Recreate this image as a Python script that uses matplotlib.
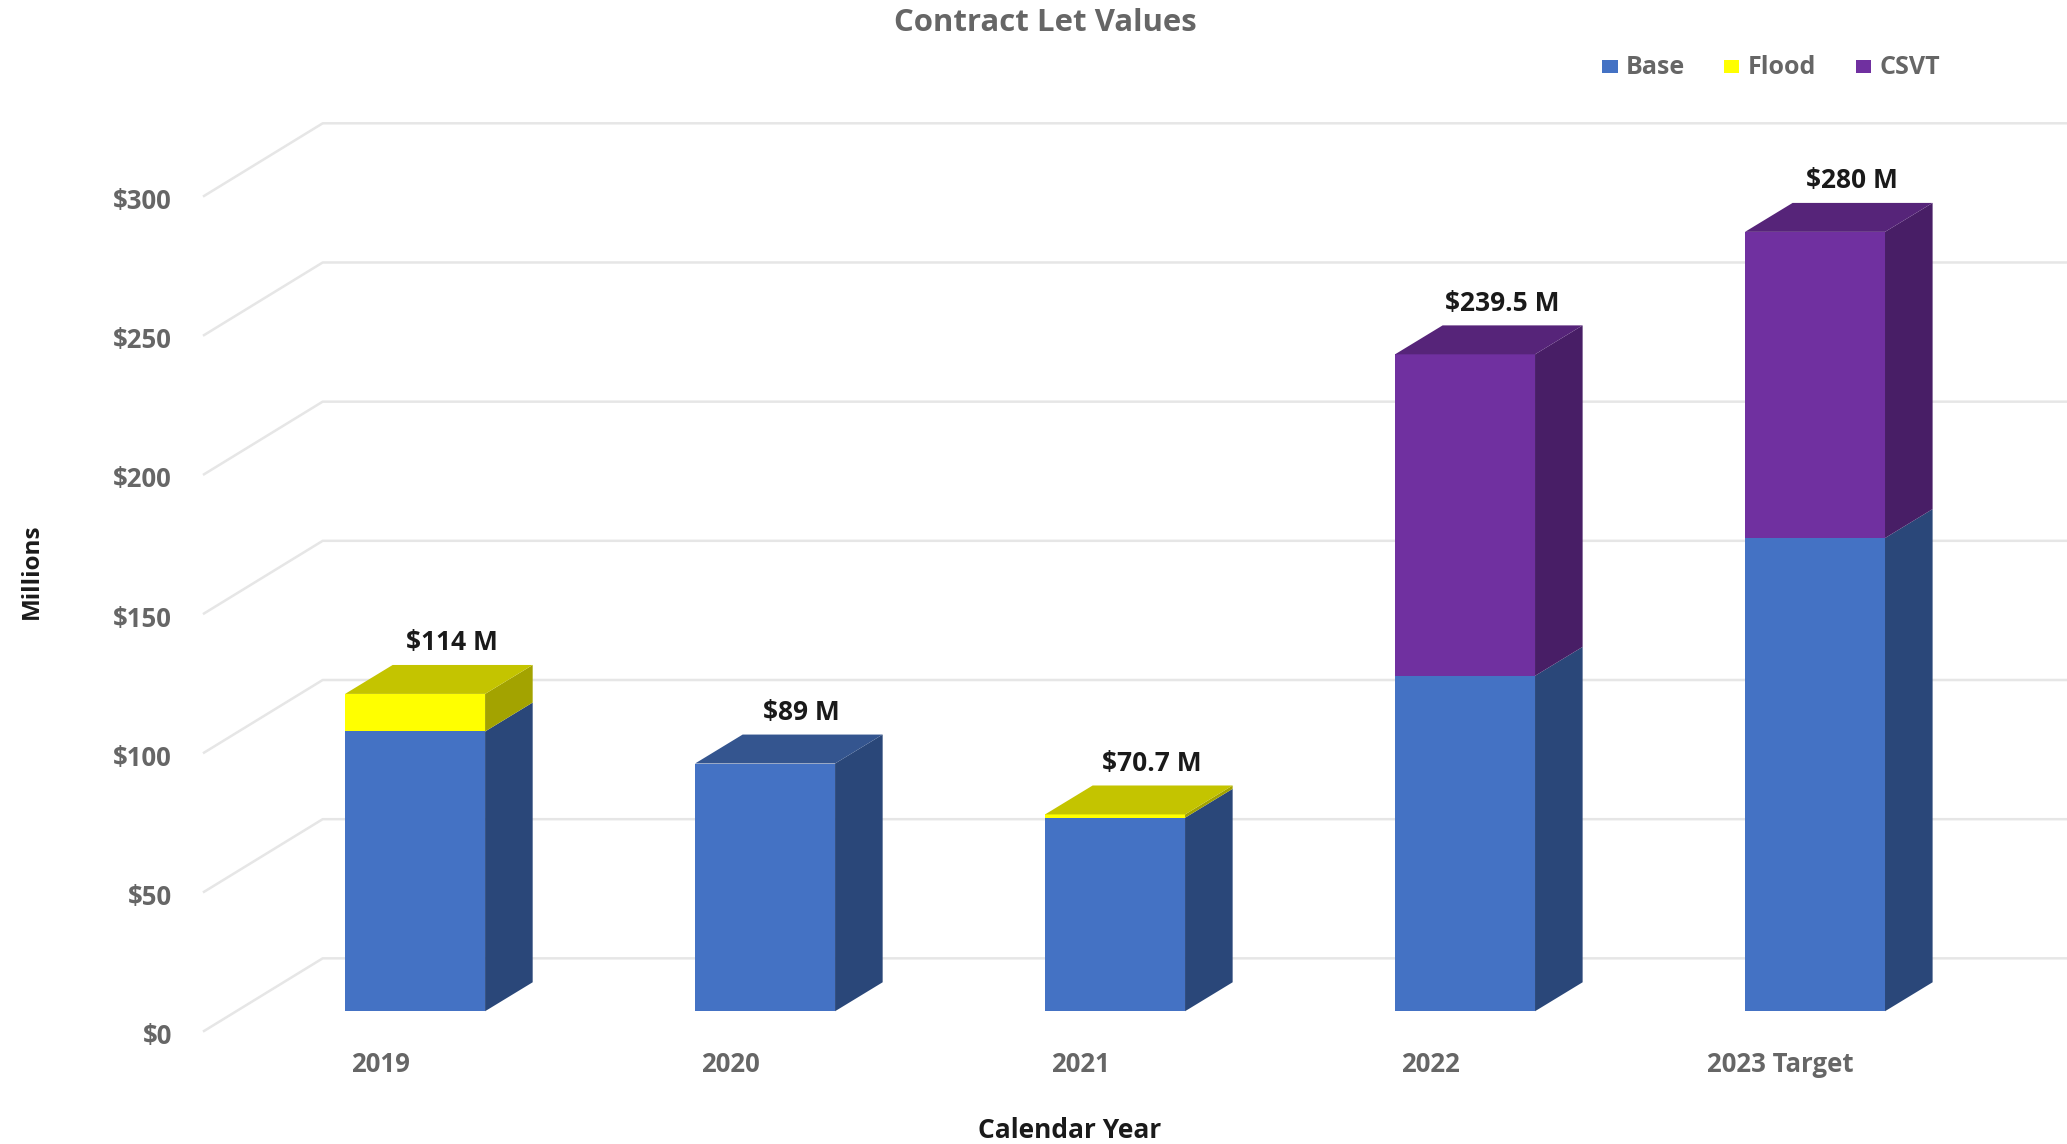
import matplotlib
matplotlib.use('Agg')
import matplotlib.pyplot as plt
from matplotlib.patches import Polygon, Rectangle

plt.rcParams['font.family'] = ['Open Sans', 'DejaVu Sans']

years = ['2019', '2020', '2021', '2022', '2023 Target']
base = [100.5, 89, 69.5, 120.5, 170]
flood = [13.5, 0, 1.2, 0, 0]
csvt = [0, 0, 0, 115.5, 110]
totals = ['$114 M', '$89 M', '$70.7 M', '$239.5 M', '$280 M']
ticks = [0, 50, 100, 150, 200, 250, 300]
tick_labels = ['$0', '$50', '$100', '$150', '$200', '$250', '$300']

# front, top, side shades
BLUE = ('#4472c4', '#34558f', '#2a4779')
YELLOW = ('#ffff00', '#c4c400', '#a3a300')
PURPLE = ('#7030a0', '#562479', '#481e66')

fig = plt.figure(figsize=(20.67, 11.44), dpi=100)
ax = fig.add_axes([0, 0, 1, 1])
ax.set_xlim(-1.186, 4.72)
ax.set_ylim(-47.7, 363.3)
ax.axis('off')

bar_w = 0.4
dx = 0.136
dy = 10.4
grid_x = [-0.603, -0.264, 4.72]
grid_off = [-7.1, 19, 19]

for t, lab in zip(ticks, tick_labels):
    ax.plot(grid_x, [t + g for g in grid_off], color='#e6e6e6', lw=1.8, zorder=1)
    ax.text(-0.695, t - 9.1, lab, ha='right', va='center',
            fontsize=18.5, fontweight='bold', color='#666666')


def draw_seg(i, lo, hi, shades, top=False):
    l = i - bar_w / 2
    r = i + bar_w / 2
    ax.add_patch(Rectangle((l, lo), bar_w, hi - lo, fc=shades[0], ec='none', zorder=3))
    ax.add_patch(Polygon([(r, lo), (r + dx, lo + dy), (r + dx, hi + dy), (r, hi)],
                         fc=shades[2], ec='none', zorder=3))
    if top:
        ax.add_patch(Polygon([(l, hi), (l + dx, hi + dy), (r + dx, hi + dy), (r, hi)],
                             fc=shades[1], ec='none', zorder=3))


for i in range(len(years)):
    b, f, c = base[i], flood[i], csvt[i]
    draw_seg(i, 0, b, BLUE, top=(f == 0 and c == 0))
    if f > 0:
        draw_seg(i, b, b + f, YELLOW, top=True)
    if c > 0:
        draw_seg(i, b + f, b + f + c, PURPLE, top=True)
    ax.text(i + 0.105, b + f + c + dy + 8, totals[i], ha='center', va='center',
            fontsize=19, fontweight='bold', color='#1a1a1a', zorder=4)
    ax.text(i - 0.1, -19, years[i], ha='center', va='center',
            fontsize=18.5, fontweight='bold', color='#666666')

ax.text(1.8, 354.9, 'Contract Let Values', ha='center', va='center',
        fontsize=22.4, fontweight='bold', color='#666666')
ax.text(1.87, -43, 'Calendar Year', ha='center', va='center',
        fontsize=19, fontweight='bold', color='#1a1a1a')
ax.text(-1.095, 158, 'Millions', ha='center', va='center', rotation=90,
        fontsize=17.5, fontweight='bold', color='#1a1a1a')

# legend
legend_names = ['Base', 'Flood', 'CSVT']
legend_cols = [BLUE[0], YELLOW[0], PURPLE[0]]
legend_x = [3.392, 3.739, 4.117]
for name, col, lx in zip(legend_names, legend_cols, legend_x):
    ax.add_patch(Rectangle((lx, 337.2), 0.044, 4.6, fc=col, ec='none'))
    ax.text(lx + 0.068, 339.2, name, ha='left', va='center',
            fontsize=18, fontweight='bold', color='#666666')

fig.savefig('out.png', dpi=100)
